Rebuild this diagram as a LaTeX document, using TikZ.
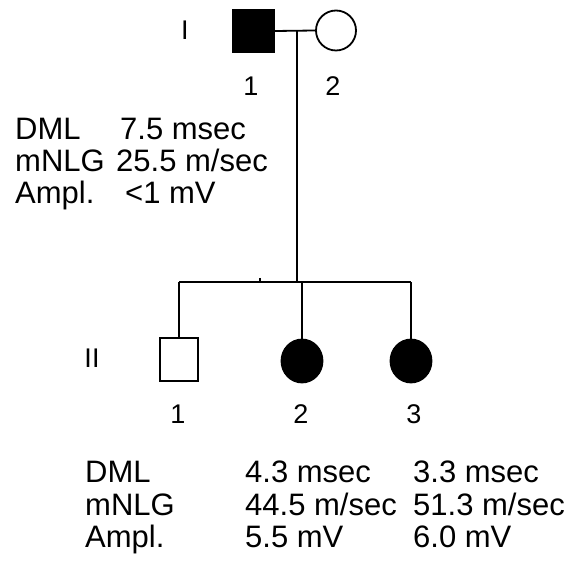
\documentclass[tikz,border=0pt]{standalone}
\usepackage{fontspec}
\setmainfont{Liberation Sans}
\usetikzlibrary{shapes.geometric}
\begin{document}
\begin{tikzpicture}[x=1pt,y=-1pt,
  lw/.style={line width=1.8pt},
  male/.style={lw,draw=black,rectangle,minimum width=#1,minimum height=43pt,inner sep=0pt},
  female/.style={lw,draw=black,ellipse,minimum width=41pt,minimum height=43pt,inner sep=0pt},
  txt/.style={font=\fontsize{31}{36}\selectfont,inner sep=0pt,anchor=base west},
  lbl/.style={font=\fontsize{27}{31}\selectfont,inner sep=0pt}]
\useasboundingbox[fill=white] (0,0) rectangle (574,569);
% generation I
\node[male=41pt,fill=black] (i1) at (253.5,31) {};
\node[female,minimum width=40pt,minimum height=40pt] (i2) at (336,30.5) {};
\draw[lw] (i1.east) -- (i2.west);
\coordinate (m) at (297,30.5);
\coordinate (s) at (297,282);
\draw[lw] (m) -- (s);
\node[lbl] (gI) at (185,30) {I};
\node[lbl] (n11) at (251,86) {1};
\node[lbl] (n12) at (333,86) {2};
% generation II
\node[male=38pt] (ii1) at (179,359.5) {};
\node[female,fill=black] (ii2) at (302,361) {};
\node[female,fill=black] (ii3) at (411,361) {};
\coordinate (sl) at (179,282);
\coordinate (sr) at (411,282);
\draw[lw] (sl) -- (sr);
\coordinate (tk) at (260,278);
\draw[line width=1.2pt] (tk) -- (tk |- s);
\draw[lw] (ii1.north) -- (ii1.north |- s);
\draw[lw] (ii2.north) -- (ii2.north |- s);
\draw[lw] (ii3.north) -- (ii3.north |- s);
\node[lbl] (gII) at (92,358) {II};
\node[lbl] (n21) at (178,414) {1};
\node[lbl] (n22) at (301,414) {2};
\node[lbl] (n23) at (414,414) {3};
% measurements I-1
\node[txt] (a1) at (15,140) {DML};
\node[txt] (a2) at (15,172) {mNLG};
\node[txt] (a3) at (15,204) {Ampl.};
\node[txt] (b1) at (120,140) {7.5 msec};
\node[txt] (b2) at (116,172) {25.5 m/sec};
\node[txt] (b3) at (125,204) {<1 mV};
% measurements II
\node[txt] (c1) at (85,483) {DML};
\node[txt] (c2) at (85,516) {mNLG};
\node[txt] (c3) at (85,548) {Ampl.};
\node[txt] (d1) at (245,483) {4.3 msec};
\node[txt] (d2) at (245,516) {44.5 m/sec};
\node[txt] (d3) at (245,548) {5.5 mV};
\node[txt] (e1) at (413,483) {3.3 msec};
\node[txt] (e2) at (413,516) {51.3 m/sec};
\node[txt] (e3) at (413,548) {6.0 mV};
\end{tikzpicture}
\end{document}
